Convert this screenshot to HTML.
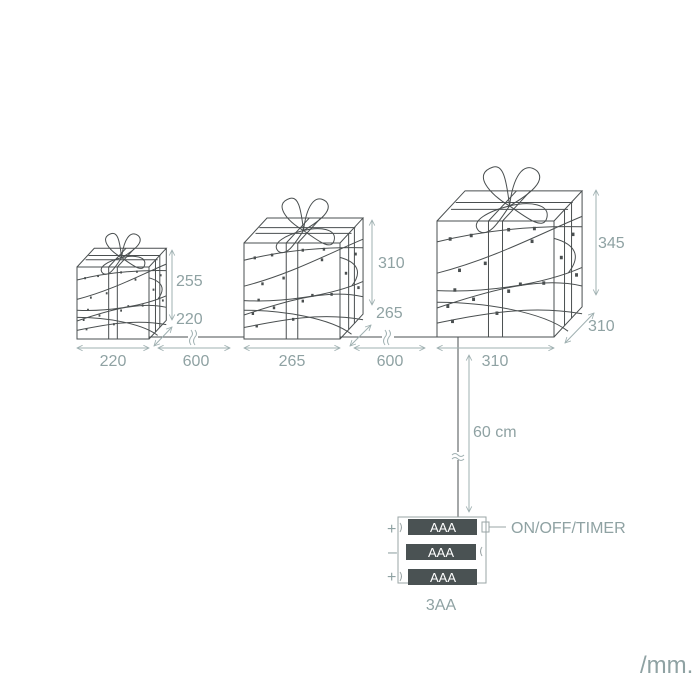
<!DOCTYPE html>
<html><head><meta charset="utf-8"><style>
html,body{margin:0;padding:0;background:#fff;}
svg{display:block;}
.l{fill:none;stroke:#4a4f50;stroke-width:1;vector-effect:non-scaling-stroke;}
.d{fill:none;stroke:#9fb0b1;stroke-width:1;}
text{font-family:"Liberation Sans",sans-serif;fill:#8fa2a3;}
</style></head><body>
<svg width="700" height="700" viewBox="0 0 700 700" xmlns="http://www.w3.org/2000/svg">
<defs>
<marker id="a" viewBox="0 0 10 10" refX="9" refY="5" markerWidth="7" markerHeight="7" orient="auto-start-reverse"><path d="M1,1 L9,5 L1,9" fill="none" stroke="#9fb0b1" stroke-width="1.2"/></marker>
<g id="box">
<path class="l" d="M0,0 H100 V-100 H0 Z M0,-100 L24,-126 H124 L100,-100 M124,-126 V-26 L100,0"/>
<path class="l" d="M44,0 V-100 M56,0 V-100 M44,-100 L68,-126 M56,-100 L80,-126 M12,-110 H112 M16,-116 H116 M109,-110 V-10 M115,-116 V-16"/>
<path class="l" d="M0,-82 C40,-92 80,-96 124,-95 M0,-55 C50,-68 90,-90 124,-104 M0,-40 C40,-38 90,-45 124,-60 M0,-25 C50,-42 90,-52 124,-44 M0,-12 C40,-20 80,-28 124,-20 M0,-30 C40,-30 90,-22 112,-5 M100,-85 C118,-80 124,-70 112,-55"/>
<g transform="translate(62,-113) scale(1.45) translate(-62,113)">
<path class="l" d="M62,-113 C50,-120 40,-132 52,-136 C58,-138 60,-130 62,-113 C64,-130 70,-140 78,-134 C84,-128 74,-120 62,-113 C50,-110 38,-104 44,-98 C50,-94 56,-104 62,-113 C72,-106 82,-98 84,-106 C86,-114 74,-116 62,-113"/>
</g>
<g fill="#4a4f50"><rect x="10" y="-86" width="2.5" height="3"/><rect x="28" y="-89" width="2.5" height="3"/><rect x="60" y="-94" width="2.5" height="3"/><rect x="82" y="-95" width="2.5" height="3"/><rect x="18" y="-59" width="2.5" height="3"/><rect x="40" y="-65" width="2.5" height="3"/><rect x="80" y="-84" width="2.5" height="3"/><rect x="14" y="-42" width="2.5" height="3"/><rect x="60" y="-41" width="2.5" height="3"/><rect x="90" y="-48" width="2.5" height="3"/><rect x="8" y="-28" width="2.5" height="3"/><rect x="30" y="-34" width="2.5" height="3"/><rect x="70" y="-47" width="2.5" height="3"/><rect x="12" y="-15" width="2.5" height="3"/><rect x="50" y="-22" width="2.5" height="3"/><rect x="105" y="-70" width="2.5" height="3"/><rect x="115" y="-90" width="2.5" height="3"/><rect x="118" y="-55" width="2.5" height="3"/></g>
</g>
</defs>
<use href="#box" transform="translate(77,339) scale(0.72)"/>
<use href="#box" transform="translate(244,339) scale(0.96)"/>
<use href="#box" transform="translate(437,337) scale(1.17,1.16)"/>
<path class="l" d="M149,337 H188 M198,337 H244 M340,337 H382 M394,337 H437 M458,337 V452 M458,460 V517"/>
<path class="d" d="M191,330 q3,4 0,7 q-3,4 0,8 M195,330 q3,4 0,7 q-3,4 0,8 M385,330 q3,4 0,7 q-3,4 0,8 M389,330 q3,4 0,7 q-3,4 0,8 M452,455 q3,-3 6,0 q3,3 6,0 M452,459 q3,-3 6,0 q3,3 6,0"/>
<g class="d" marker-start="url(#a)" marker-end="url(#a)">
<line x1="77" y1="348" x2="149" y2="348"/><line x1="158" y1="348" x2="230" y2="348"/>
<line x1="244" y1="348" x2="340" y2="348"/><line x1="354" y1="348" x2="425" y2="348"/>
<line x1="437" y1="348" x2="554" y2="348"/>
<line x1="172" y1="250" x2="172" y2="320"/><line x1="372" y1="220" x2="372" y2="305"/><line x1="596" y1="190" x2="596" y2="295"/>
<line x1="154" y1="346" x2="172" y2="327"/><line x1="350" y1="346" x2="371" y2="325"/><line x1="565" y1="343" x2="594" y2="313"/>
<line x1="469" y1="355" x2="469" y2="512"/>
</g>
<g font-size="16">
<text x="176" y="286">255</text><text x="378" y="268">310</text><text x="598" y="248">345</text>
<text x="176" y="324">220</text><text x="376" y="318">265</text><text x="588" y="331">310</text>
<text x="113" y="366" text-anchor="middle">220</text><text x="196" y="366" text-anchor="middle">600</text>
<text x="292" y="366" text-anchor="middle">265</text><text x="390" y="366" text-anchor="middle">600</text>
<text x="495" y="366" text-anchor="middle">310</text>
<text x="473" y="437">60 cm</text>
<text x="511" y="533">ON/OFF/TIMER</text>
<text x="441" y="610" text-anchor="middle">3AA</text>
<text x="387" y="534">+</text><text x="388" y="557">–</text><text x="387" y="582">+</text>
</g>
<text x="640" y="673" font-size="24">/mm.</text>
<rect x="398" y="517" width="88" height="66" fill="none" stroke="#9aa4a5"/>
<g fill="#4a5253"><rect x="408" y="519" width="69" height="16"/><rect x="406" y="544" width="70" height="16"/><rect x="408" y="569" width="69" height="16"/></g>
<g font-size="13" text-anchor="middle"><text x="443" y="532" style="fill:#fff">AAA</text><text x="441" y="557" style="fill:#fff">AAA</text><text x="443" y="582" style="fill:#fff">AAA</text></g>
<path d="M482,522 h7 v10 h-7 Z M489,527 H506 M400,523 q3,4 0,9 M400,572 q3,4 0,9 M482,547 q-3,4 0,9" fill="none" stroke="#9aa4a5"/>
</svg>
</body></html>
